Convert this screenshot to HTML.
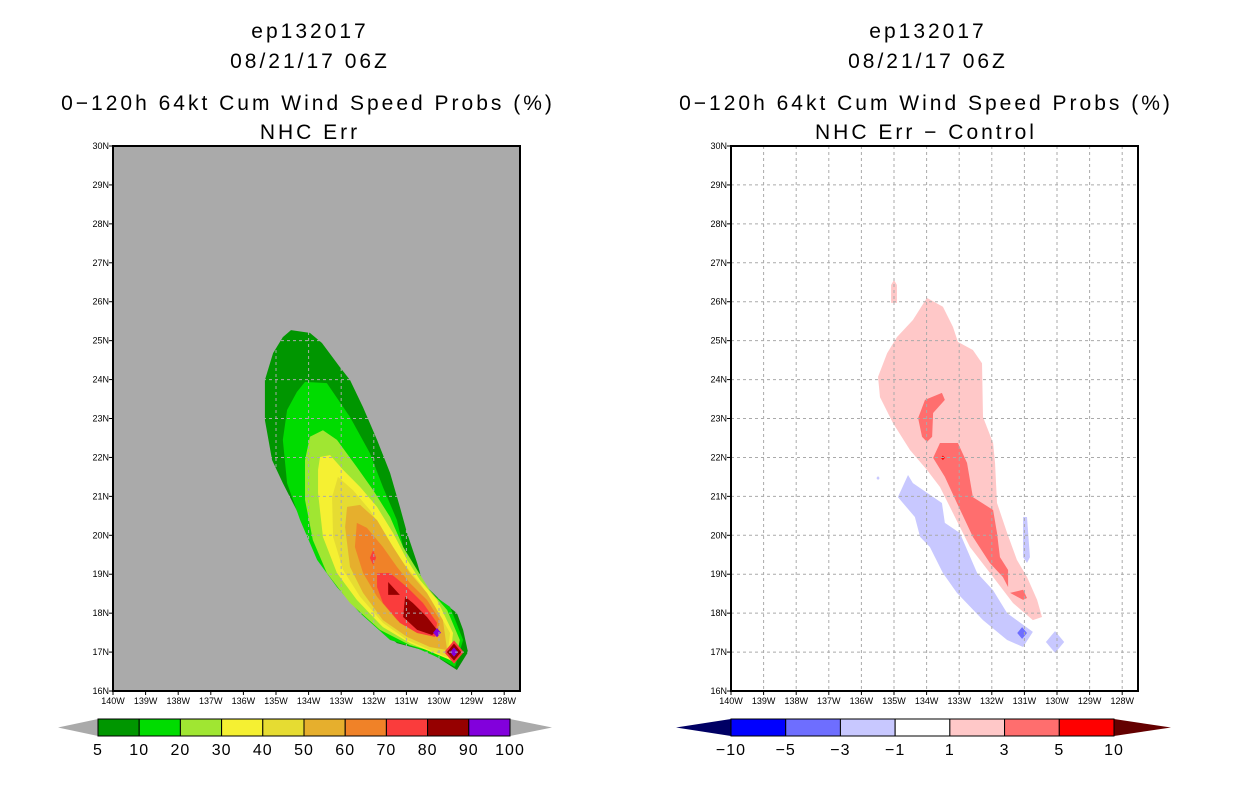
<!DOCTYPE html>
<html><head><meta charset="utf-8"><style>
body{margin:0;background:#fff;}
svg{display:block;font-family:"Liberation Sans",sans-serif;}
</style></head><body>
<svg id="s" width="1236" height="800" viewBox="0 0 1236 800">
<g font-size="21" letter-spacing="3" text-anchor="middle" fill="#000">
<text x="310" y="38">ep132017</text><text x="310" y="68">08/21/17 06Z</text>
<text x="308" y="110">0−120h 64kt Cum Wind Speed Probs (%)</text><text x="310" y="139">NHC Err</text></g>
<g font-size="21" letter-spacing="3" text-anchor="middle" fill="#000">
<text x="928" y="38">ep132017</text><text x="928" y="68">08/21/17 06Z</text>
<text x="926" y="110">0−120h 64kt Cum Wind Speed Probs (%)</text><text x="926" y="139">NHC Err − Control</text></g>
<g id="L"></g>
<g id="R"></g>
<g id="CB"></g>
</svg>
<script>
// Contour levels / colours (left)
const probLevels=[5,10,20,30,40,50,60,70,80,90,100];
const probColors=["#009600","#00dc00","#a0e632","#f5f032","#e6dc32","#e6af2d","#f08228","#fa3c3c","#960000","#8200dc"];
const diffLevels=[-10,-5,-3,-1,1,3,5,10];
const diffColors=["#0000ff","#6e6eff","#c8c8ff","#ffffff","#ffc8c8","#ff6e6e","#ff0000"];
const lonTicks=[140,139,138,137,136,135,134,133,132,131,130,129,128];
const latTicks=[16,17,18,19,20,21,22,23,24,25,26,27,28,29,30];
// Left contours: [lonW, latN]
const p5=[[134.54,25.27],[133.96,25.2],[133.59,24.94],[133.04,24.32],[132.73,23.99],[132.33,23.29],[131.9,22.45],[131.5,21.6],[131.2,20.73],[130.98,20.06],[130.67,19.29],[130.49,18.77],[129.97,18.34],[129.45,18.0],[129.26,17.57],[129.11,17.0],[129.45,16.54],[130.06,16.87],[130.49,17.05],[131.29,17.23],[131.9,17.64],[132.42,18.16],[133.04,18.85],[133.65,19.62],[134.26,20.47],[134.79,21.34],[135.12,21.93],[135.34,22.96],[135.34,23.99],[135.09,24.68],[134.79,25.09]];
const p10=[[134.11,23.94],[133.44,23.91],[132.73,23.04],[132.12,22.11],[131.72,21.24],[131.29,20.39],[131.1,19.7],[130.67,19.03],[130.28,18.52],[129.66,18.16],[129.26,17.31],[129.51,16.62],[130.06,16.87],[130.67,17.1],[131.5,17.31],[132.42,18.0],[133.13,18.67],[133.74,19.37],[134.26,20.39],[134.66,21.34],[134.79,22.45],[134.66,23.22],[134.36,23.68]];
const p20=[[133.56,22.7],[133.13,22.45],[132.52,21.75],[132.02,21.16],[131.5,20.47],[131.1,19.7],[130.67,19.11],[130.28,18.59],[129.75,18.08],[129.36,17.31],[129.51,16.72],[130.06,16.98],[130.89,17.18],[131.81,17.57],[132.73,18.26],[133.44,19.03],[133.87,19.88],[134.11,20.91],[134.11,21.93],[133.96,22.53]];
const p30=[[133.65,22.01],[133.34,22.06],[132.94,21.68],[132.42,21.24],[131.9,20.73],[131.41,20.06],[130.98,19.37],[130.58,18.85],[130.06,18.34],[129.57,17.49],[129.66,16.8],[130.18,16.98],[130.89,17.23],[131.72,17.64],[132.52,18.34],[133.13,19.03],[133.56,19.96],[133.71,21.09],[133.71,21.68]];
const p40=[[133.1,21.5],[132.64,21.16],[132.12,20.65],[131.6,19.96],[131.1,19.29],[130.58,18.77],[130.18,18.26],[129.66,17.49],[129.75,16.87],[130.28,17.05],[130.98,17.31],[131.72,17.75],[132.42,18.42],[132.94,19.11],[133.25,19.96],[133.28,20.98]];
const p50=[[132.82,20.73],[132.42,20.78],[131.9,20.39],[131.41,19.7],[130.89,19.03],[130.37,18.52],[129.88,17.82],[129.75,17.05],[130.28,17.13],[130.98,17.39],[131.72,17.82],[132.33,18.52],[132.73,19.19],[132.88,20.21]];
const p60=[[132.52,20.32],[132.21,20.19],[131.72,19.7],[131.29,19.19],[130.89,18.77],[130.37,18.34],[129.97,17.82],[130.06,17.39],[130.67,17.49],[131.29,17.82],[131.9,18.42],[132.33,19.03],[132.58,19.7]];
const p70=[[131.9,19.03],[131.5,19.03],[130.98,18.67],[130.49,18.26],[130.06,17.75],[130.12,17.39],[130.67,17.49],[131.2,17.75],[131.72,18.26],[131.9,18.67]];
const p70b=[[132.02,19.62],[131.93,19.42],[132.02,19.24],[132.12,19.42]];
const p80a=[[131.56,18.8],[131.2,18.47],[131.56,18.47]];
const p80b=[[131.04,18.42],[130.8,18.26],[130.37,17.9],[130.06,17.57],[130.21,17.44],[130.67,17.57],[131.1,17.9]];
const tipRings=[[129.54,17.0,0.3,7],[129.54,17.0,0.22,8],[129.54,17.0,0.12,9]];
const p90pt=[[130.06,17.5,0.12,9]];
// Right contours
const d1=[[133.99,26.1],[133.5,25.87],[133.19,25.35],[133.04,24.97],[132.58,24.76],[132.3,24.42],[132.27,23.04],[131.96,22.37],[131.9,21.85],[131.84,20.83],[131.53,20.06],[131.23,19.37],[130.92,18.93],[130.61,18.34],[130.46,17.9],[130.74,17.82],[131.35,18.26],[131.96,18.93],[132.67,19.7],[133.19,20.57],[133.59,21.24],[133.99,21.68],[134.51,22.19],[135.03,22.88],[135.43,23.55],[135.49,24.07],[135.21,24.68],[134.91,25.09],[134.42,25.53]];
const d1b=[[135.0,26.56],[134.91,26.43],[134.91,25.97],[135.09,25.97],[135.09,26.43]];
const d3a=[[133.53,23.66],[133.44,23.48],[133.8,23.14],[133.83,22.53],[133.99,22.4],[134.14,22.53],[134.26,23.01],[134.05,23.48]];
const d3b=[[133.59,22.37],[133.04,22.37],[132.76,21.86],[132.58,20.98],[131.96,20.65],[131.84,20.06],[131.75,19.44],[131.5,19.11],[131.5,18.67],[131.66,18.93],[132.06,19.29],[132.58,19.96],[133.07,20.83],[133.44,21.5],[133.8,21.99]];
const d3c=[[131.44,18.52],[131.04,18.6],[130.92,18.39],[131.04,18.34]];
const d5pt=[[133.5,21.99,0.06,6]];
const n1=[[134.57,21.55],[134.42,21.34],[133.53,20.83],[133.44,20.32],[132.98,20.06],[132.45,19.03],[131.96,18.59],[131.53,18.0],[130.74,17.52],[131.04,17.13],[131.53,17.31],[132.27,17.82],[133.07,18.52],[133.5,19.03],[133.9,19.7],[134.2,19.96],[134.36,20.47],[134.88,20.98]];
const n1b=[[131.04,20.47],[130.92,20.47],[130.83,19.44],[130.92,19.29],[131.04,19.44]];
const n1pts=[[130.06,17.26,0.28,2],[135.49,21.47,0.05,2]];
const n3pts=[[131.07,17.49,0.15,1]];

const NS="http://www.w3.org/2000/svg";
function mk(t,a,p){const e=document.createElementNS(NS,t);for(const k in a)e.setAttribute(k,a[k]);p.appendChild(e);return e;}
function makeAxes(x0){return {X:w=>x0+(140-w)*32.6, Y:l=>146+(30-l)*38.93};}
const A=makeAxes(113), B=makeAxes(731);
function poly(ax,g,pts,fill,name){const e=mk('polygon',{points:pts.map(p=>ax.X(p[0])+','+ax.Y(p[1])).join(' '),fill:fill},g);

}
function diamond(ax,g,d,colors,name){const [w,l,r,ci]=d;const pts=[[w,l+r],[w-r,l],[w,l-r],[w+r,l]];poly(ax,g,pts,colors[ci],name);}
function frame(ax,g,x0,bg,draw){
  const x1=x0+407;
  mk('rect',{x:x0,y:146,width:407,height:545,fill:bg},g);
  draw();
  const gg=mk('g',{stroke:'#aaaaaa','stroke-width':1,'stroke-dasharray':'3,3'},g);
  
  
  lonTicks.forEach(w=>{const x=ax.X(w);if(x>x0+1&&x<x1-1)mk('line',{x1:x,x2:x,y1:146,y2:691},gg);});
  latTicks.forEach(l=>{const y=ax.Y(l);if(y>147&&y<690)mk('line',{x1:x0,x2:x1,y1:y,y2:y},gg);});
  mk('rect',{x:x0,y:146,width:407,height:545,fill:'none',stroke:'#000','stroke-width':2},g);
  const tg=mk('g',{'font-size':9,fill:'#000'},g);
  
  
  latTicks.forEach(l=>{const y=ax.Y(l);mk('line',{x1:x0-4,x2:x0,y1:y,y2:y,stroke:'#000'},g);
    const t=mk('text',{x:x0-4,y:y+3,'text-anchor':'end'},tg);t.textContent=l+'N';});
  lonTicks.forEach(w=>{const x=ax.X(w);mk('line',{x1:x,x2:x,y1:691,y2:695,stroke:'#000'},g);
    const t=mk('text',{x:x,y:704,'text-anchor':'middle'},tg);t.textContent=w+'W';});
}
const L=document.getElementById('L');
frame(A,L,113,'#aaaaaa',()=>{
  [p5,p10,p20,p30,p40,p50,p60,p70].forEach((p,i)=>poly(A,L,p,probColors[i],'contour-'+probLevels[i]));
  poly(A,L,p70b,probColors[7],'contour-70-blob');
  poly(A,L,p80a,probColors[8],'contour-80a');poly(A,L,p80b,probColors[8],'contour-80b');
  tipRings.forEach(d=>diamond(A,L,d,probColors,'tip-ring'));
  p90pt.forEach(d=>diamond(A,L,d,probColors,'contour-90-pt'));
});
const R=document.getElementById('R');
frame(B,R,731,'#fff',()=>{
  poly(B,R,d1,diffColors[4],'diff-1-3');poly(B,R,d1b,diffColors[4],'diff-1-3-blob');
  poly(B,R,d3a,diffColors[5],'diff-3-5a');poly(B,R,d3b,diffColors[5],'diff-3-5b');poly(B,R,d3c,diffColors[5],'diff-3-5c');
  d5pt.forEach(d=>diamond(B,R,d,diffColors,'diff-5-pt'));
  poly(B,R,n1,diffColors[2],'diff-neg-band');poly(B,R,n1b,diffColors[2],'diff-neg-blob');
  n1pts.forEach(d=>diamond(B,R,d,diffColors,'diff-neg-pt'));
  n3pts.forEach(d=>diamond(B,R,d,diffColors,'diff-neg3-pt'));
});
// colorbars
const CB=document.getElementById('CB');
function colorbar(x0,x1,tl,tr,cols,labels,lc,rc,name){
  const g=mk('g',{},CB);
  
  
  const n=cols.length,w=(x1-x0)/n;
  mk('polygon',{points:`${x0},719 ${x0},736 ${tl},727.5`,fill:lc},g);
  mk('polygon',{points:`${x1},719 ${x1},736 ${tr},727.5`,fill:rc},g);
  cols.forEach((c,i)=>mk('rect',{x:x0+i*w,y:719,width:w,height:17,fill:c,stroke:'#000','stroke-width':1},g));
  labels.forEach((v,i)=>{const t=mk('text',{x:x0+i*w,y:755,'text-anchor':'middle','font-size':16,'letter-spacing':1},g);t.textContent=String(v).replace('-','−');});
}
colorbar(98,510,58,552,probColors,probLevels,'#aaaaaa','#aaaaaa','prob-colorbar');
colorbar(731,1114,676,1171,diffColors,diffLevels,'#000064','#640000','diff-colorbar');
</script>
</body></html>
